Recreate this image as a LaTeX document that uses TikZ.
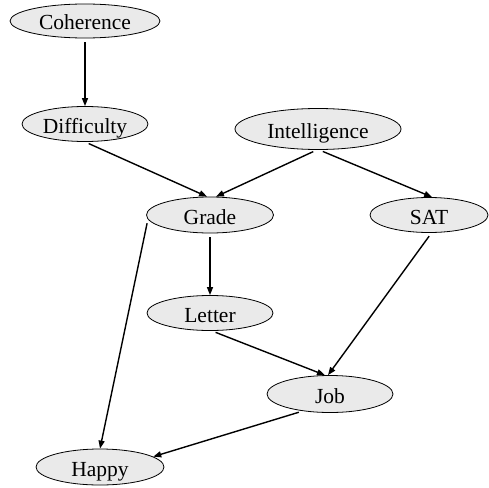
\documentclass[tikz,border=0pt]{standalone}
\usepackage{fontspec}
\setmainfont{Liberation Serif}
\usetikzlibrary{shapes.geometric,arrows.meta}
\definecolor{nodefill}{RGB}{234,234,234}
\tikzset{
  var/.style={ellipse, draw=black, line width=0.8pt, fill=nodefill, inner sep=0pt,
    font=\fontsize{21.5}{24}\selectfont, text height=18pt, text depth=0pt},
  arr/.style={line width=1.4pt, shorten <=4pt, -{Triangle[length=8pt,width=6pt]}}
}
\begin{document}
\begin{tikzpicture}[x=1pt,y=-1pt]
\useasboundingbox (0,0) rectangle (489,487);
% variables
\node[var, minimum width=150pt, minimum height=34pt] (coh)   at (85,21)   {Coherence};
\node[var, minimum width=126pt, minimum height=35pt] (dif)   at (85,124)  {Difficulty};
\node[var, minimum width=166pt, minimum height=41pt] (int)   at (318,129) {Intelligence};
\node[var, minimum width=127pt, minimum height=36pt] (grade) at (210,215) {Grade};
\node[var, minimum width=118pt, minimum height=35pt] (sat)   at (429,215) {SAT};
\node[var, minimum width=126pt, minimum height=35pt] (let)   at (210,313) {Letter};
\node[var, minimum width=126pt, minimum height=37pt] (job)   at (330,394) {Job};
\node[var, minimum width=128pt, minimum height=36pt] (happy) at (100,467) {Happy};
% dependencies
\draw[arr] (coh.south)   -- (dif.north);
\draw[arr] (dif.south)   -- (grade.99);
\draw[arr] (int.267)     -- (grade.72);
\draw[arr] (int.273)     -- (sat.80);
\draw[arr] (grade.south) -- (let.north);
\draw[arr] (grade.184)   -- (happy.north);
\draw[arr] (let.276)     -- (job.105);
\draw[arr] (sat.278)     -- (job.96);
\draw[arr] (job.212)     -- (happy.11);
\end{tikzpicture}
\end{document}
